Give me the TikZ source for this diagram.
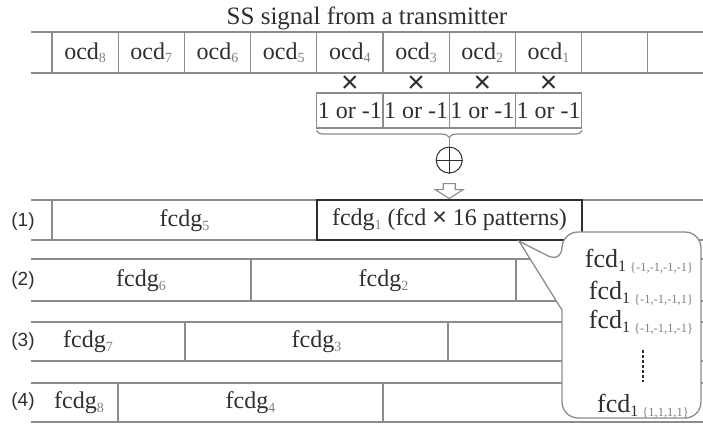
\documentclass[tikz,border=0pt]{standalone}
\usepackage{fontspec}
\setmainfont{Liberation Serif}
\newfontfamily\labelfont{Liberation Sans}
\usetikzlibrary{positioning, calc, decorations.pathreplacing}
\definecolor{linegray}{HTML}{8C8C8C}
\definecolor{inkgray}{HTML}{2E2E2E}
\newcommand{\lowsub}[1]{\raisebox{-3.5pt}{\fontsize{14}{14}\selectfont\color{gray}#1}}
\newcommand{\patsub}[1]{\raisebox{-4pt}{\fontsize{16}{16}\selectfont 1\ \fontsize{12.5}{12.5}\selectfont\color{gray}\{#1\}}}
\tikzset{
	rowline/.style={
			draw=linegray,
			line width=1.3pt
		},
	cellbox/.style={
			shape=rectangle,
			draw=linegray,
			line width=1.3pt,
			minimum width=66.2pt,
			minimum height=41pt,
			inner sep=0pt
		},
	signbox/.style={
			cellbox,
			line width=1.1pt,
			minimum height=35pt
		},
	groupbox/.style={
			shape=rectangle,
			draw=inkgray,
			line width=2.4pt,
			minimum width=265pt,
			minimum height=40pt,
			inner sep=0pt
		},
	mulsign/.style={
			font=\labelfont\fontsize{30}{30}\selectfont
		},
	sumnode/.style={
			circle,
			draw=inkgray,
			line width=1pt,
			minimum size=26pt,
			inner sep=0pt
		},
	signbrace/.style={
			draw=linegray,
			line width=1.2pt,
			decorate,
			decoration={brace, mirror, amplitude=7pt, raise=2pt}
		},
	bubble/.style={
			draw=linegray,
			line width=1.3pt,
			fill=white
		},
	bubbletext/.style={
			font=\fontsize{26}{30}\selectfont
		},
	rowlabel/.style={
			font=\labelfont\fontsize{19}{19}\selectfont
		}
}

\begin{document}
\begin{tikzpicture}[x=1pt, y=-1pt,
  every node/.style={inner sep=0pt, text=inkgray, font=\fontsize{24}{28}\selectfont}]

  \useasboundingbox (0,0) rectangle (703,423);

  \node[font=\fontsize{25}{30}\selectfont] (title) at (367,18) {SS signal from a transmitter};

  % received signal
  \draw[rowline] (31,32) -- (703,32) (31,73) -- (703,73);
  \foreach \n [count=\i from 0] in {8,7,...,1}
    \node[cellbox] (ocd\n) at ({85.1+66.2*\i},52.5) {ocd\lowsub{\n}};
  \node[cellbox] (blank) at ({85.1+66.2*8},52.5) {};

  \coordinate (mulrow) at (0,84);
  \coordinate (signrow) at (0,110.5);
  \foreach \n in {4,...,1} {
    \node[mulsign] (mul\n) at (ocd\n |- mulrow) {×};
    \node[signbox] (sign\n) at (ocd\n |- signrow) {1 or -1};
  }

  \draw[signbrace] (sign4.south west) -- (sign1.south east);
  \coordinate (bracetip) at ($(sign4.south west)!0.5!(sign1.south east)+(0,9)$);
  \node[sumnode, below=9pt of bracetip] (sum) {};
  \draw[inkgray, line width=1pt] (sum.north) -- (sum.south) (sum.west) -- (sum.east);
  \draw[linegray, line width=1pt] (bracetip) -- (sum.north);
  \draw[linegray, line width=1.1pt, fill=white] ($(sum.south)+(-6,10)$) -- ++(12,0) -- ++(0,6)
    -- ++(8,0) -- ++(-14,9) -- ++(-14,-9) -- ++(8,0) -- cycle;

  % (1)
  \draw[rowline] (31,200) -- (703,200) (31,240) -- (703,240) (52,200) -- (52,240);
  \node[rowlabel] (lab1) at (23,222) {(1)};
  \node (fcdg5) at (184.5,221) {fcdg\lowsub{5}};
  \node[groupbox, fill=white] (fcdg1) at (449.5,220) {fcdg\lowsub{1} (fcd {\labelfont\fontsize{25}{25}\selectfont ×} 16 patterns)};

  % (2)
  \draw[rowline] (31,259) -- (703,259) (31,301) -- (703,301) (251,259) -- (251,301) (516,259) -- (516,301);
  \node[rowlabel] (lab2) at (23,281) {(2)};
  \node (fcdg6) at (141,281) {fcdg\lowsub{6}};
  \node (fcdg2) at (383.5,281) {fcdg\lowsub{2}};

  % (3)
  \draw[rowline] (31,322) -- (703,322) (31,361) -- (703,361) (185,322) -- (185,361) (448,322) -- (448,361);
  \node[rowlabel] (lab3) at (23,342) {(3)};
  \node (fcdg7) at (88,342) {fcdg\lowsub{7}};
  \node (fcdg3) at (316.5,342) {fcdg\lowsub{3}};

  % (4)
  \draw[rowline] (31,383) -- (703,383) (31,422) -- (703,422) (118,383) -- (118,422) (383,383) -- (383,422);
  \node[rowlabel] (lab4) at (23,402) {(4)};
  \node (fcdg8) at (79,403) {fcdg\lowsub{8}};
  \node (fcdg4) at (250.5,403) {fcdg\lowsub{4}};

  % patterns of fcdg1
  \coordinate (pointtip) at ($(fcdg1.south west)!0.76!(fcdg1.south east)$);
  \draw[bubble] (pointtip) -- (562,310) [rounded corners=16pt] -- (562,418) -- (701,418)
    -- (701,232) -- (562,232) -- (562,263) [sharp corners] -- cycle;

  \node[bubbletext] (pat1) at (639,261) {fcd\patsub{-1,-1,-1,-1}};
  \node[bubbletext] (pat2) at (641,293) {fcd\patsub{-1,-1,-1,1}};
  \node[bubbletext] (pat3) at (641,322) {fcd\patsub{-1,-1,1,-1}};
  \node[bubbletext] (pat4) at (643,406) {fcd\patsub{1,1,1,1}};
  \draw[inkgray, line width=1.2pt, dashed, dash pattern=on 3pt off 2pt]
    ($(pat3.south -| pat4.north)+(0,16)$) -- ($(pat4.north)+(0,-12)$);

\end{tikzpicture}
\end{document}
